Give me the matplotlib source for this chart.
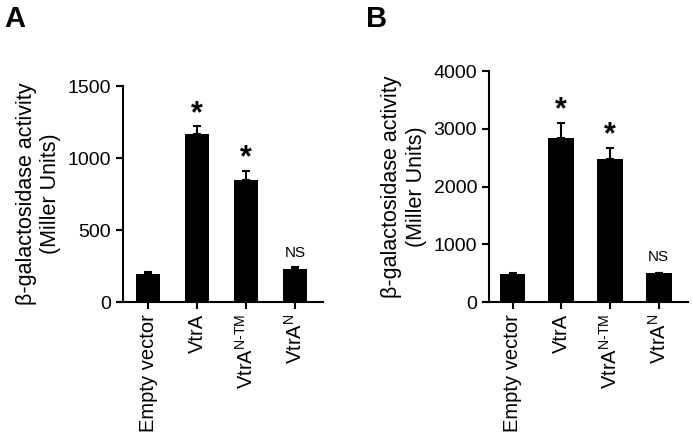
import numpy as np
import matplotlib
matplotlib.use("Agg")
import matplotlib.pyplot as plt

plt.rcParams['font.family'] = ['Liberation Sans', 'DejaVu Sans']
plt.rcParams['mathtext.fontset'] = 'custom'
plt.rcParams['mathtext.rm'] = 'Liberation Sans'

categories = ['Empty vector', 'VtrA', r'VtrA$^{\mathrm{N\text{-}TM}}$', r'VtrA$^{\mathrm{N}}$']

# panel A
vals_a = [195, 1165, 848, 230]
err_a = [15, 55, 65, 10]
marks_a = ['', '*', '*', 'NS']

# panel B
vals_b = [490, 2840, 2470, 495]
err_b = [20, 260, 200, 15]
marks_b = ['', '*', '*', 'NS']

fig = plt.figure(figsize=(6.93, 4.44), dpi=100)

def panel(rect, vals, errs, marks, ymax, step, letter, letter_x, spine_off, width, xlim):
    ax = fig.add_axes(rect)
    x = np.arange(len(vals))
    ax.bar(x, vals, width=width, color='black')
    ax.errorbar(x, vals, yerr=[[0] * len(errs), errs], fmt='none', ecolor='black',
                elinewidth=1.5, capsize=3, capthick=1.5)
    for xi, v, e, m in zip(x, vals, errs, marks):
        if m == '*':
            ax.text(xi, v + e + ymax * 0.02, '*', ha='center', va='baseline',
                    fontsize=22, fontweight='bold')
        elif m == 'NS':
            ax.text(xi, v + e + ymax * 0.035, 'NS', ha='center', va='bottom', fontsize=11)
    ax.set_ylim(0, ymax)
    ax.set_xlim(*xlim)
    ax.set_yticks(np.arange(0, ymax + 1, step))
    ax.set_xticks(x)
    ax.set_xticklabels(categories, rotation=90, fontsize=14.5)
    ax.tick_params(axis='y', labelsize=14, width=1.5, length=5)
    ax.tick_params(axis='x', width=1.5, length=5)
    for s in ['top', 'right']:
        ax.spines[s].set_visible(False)
    for s in ['left', 'bottom']:
        ax.spines[s].set_linewidth(1.5)
    ax.spines['left'].set_position(('axes', spine_off))
    ax.set_ylabel('β-galactosidase activity\n(Miller Units)', fontsize=15.5, labelpad=5)
    fig.text(letter_x, 0.94, letter, fontsize=21, fontweight='bold')
    return ax

panel([0.1703, 0.3198, 0.2958, 0.4865], vals_a, err_a, marks_a, 1500, 500, 'A', 0.006,
      5 / 205, 0.49, (-0.612, 3.571))
panel([0.697, 0.3198, 0.2958, 0.520], vals_b, err_b, marks_b, 4000, 1000, 'B', 0.528,
      6 / 205, 0.53, (-0.605, 3.6))

fig.savefig('out.png', dpi=100)
